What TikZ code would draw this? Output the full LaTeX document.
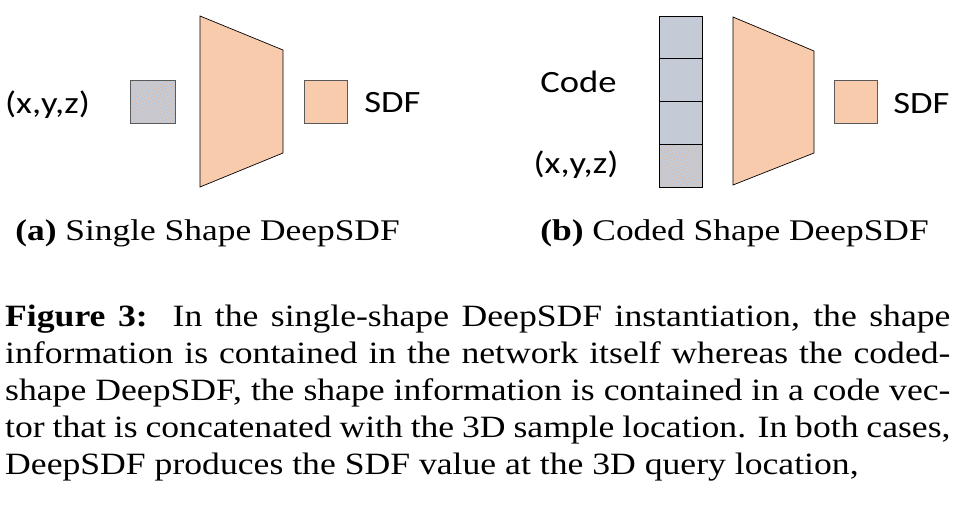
\documentclass[tikz,border=0pt]{standalone}
\usepackage{fontspec}
\setmainfont{Liberation Serif}
\newfontfamily\calib{Carlito}
\usetikzlibrary{patterns.meta}
\definecolor{peach}{HTML}{F8CBAD}
\definecolor{cellgray}{HTML}{C4CBD7}
\definecolor{dotorange}{HTML}{F2B07E}
\definecolor{edgegray}{HTML}{595959}
\tikzset{
  lbl/.style={inner sep=0pt, anchor=base, font=\calib\fontsize{31}{31}\selectfont},
  subcap/.style={inner sep=0pt, anchor=base, font=\fontsize{30}{30}\selectfont},
  capline/.style={inner sep=0pt, anchor=base west, font=\fontsize{31}{31}\selectfont},
  sqbox/.style={draw=edgegray, line width=0.8pt, fill=peach},
  net/.style={draw=black, line width=0.7pt, fill=peach},
  cell/.style={draw=black, line width=1pt, fill=cellgray},
  dotfill/.style={pattern={Dots[distance=3.2pt, radius=0.65pt, angle=20]}, pattern color=dotorange}
}
\newcommand{\hs}[1]{\scalebox{1.18}[1]{#1}}
\newcommand{\capl}[1]{\scalebox{1.15}[1]{\makebox[822pt][s]{#1}}}
\begin{document}
\begin{tikzpicture}[x=1pt,y=-1pt]
\useasboundingbox (0,0) rectangle (962,514);
% ---------- panel (a)
\node[lbl] (xyza) at (47.5,113) {\hs{(x,y,z)}};
\fill[cellgray] (130,80) rectangle (175,123);
\fill[dotfill] (130,80) rectangle (175,123);
\draw[edgegray, line width=0.8pt] (130,80) rectangle (175,123);
\draw[net] (200,16) -- (283,50) -- (283,153) -- (200,187) -- cycle;
\node[sqbox, minimum width=43pt, minimum height=43pt, inner sep=0pt] (outa) at (325.5,101.5) {};
\node[lbl] (sdfa) at (392.5,112) {\hs{SDF}};
\node[subcap] (capa) at (207.5,240) {\hs{\textbf{(a)} Single Shape DeepSDF}};
% ---------- panel (b)
\node[lbl] (code) at (578.5,92) {\hs{Code}};
\node[lbl] (xyzb) at (576,173) {\hs{(x,y,z)}};
\draw[cell] (659,16) rectangle (702,58);
\draw[cell] (659,58) rectangle (702,101);
\draw[cell] (659,101) rectangle (702,144);
\fill[cellgray] (659,144) rectangle (702,187);
\fill[dotfill] (659,144) rectangle (702,187);
\draw[black, line width=1pt] (659,144) rectangle (702,187);
\draw[net] (733,17) -- (814,51) -- (814,153) -- (733,185) -- cycle;
\node[sqbox, minimum width=43pt, minimum height=43pt, inner sep=0pt] (outb) at (855.5,101.5) {};
\node[lbl] (sdfb) at (921.5,113) {\hs{SDF}};
\node[subcap] (capb) at (734.5,240) {\hs{\textbf{(b)} Coded Shape DeepSDF}};
% ---------- caption
\node[capline] (l1) at (5,326) {\capl{\textbf{Figure 3:}\ \ In the single-shape DeepSDF instantiation, the shape}};
\node[capline] (l2) at (5,363) {\capl{information is contained in the network itself whereas the coded-}};
\node[capline] (l3) at (5,400) {\capl{shape DeepSDF, the shape information is contained in a code vec-}};
\node[capline] (l4) at (5,437) {\capl{tor that is concatenated with the 3D sample location. In both cases,}};
\node[capline] (l5) at (5,474) {\scalebox{1.15}[1]{DeepSDF produces the SDF value at the 3D query location,}};
\end{tikzpicture}
\end{document}
